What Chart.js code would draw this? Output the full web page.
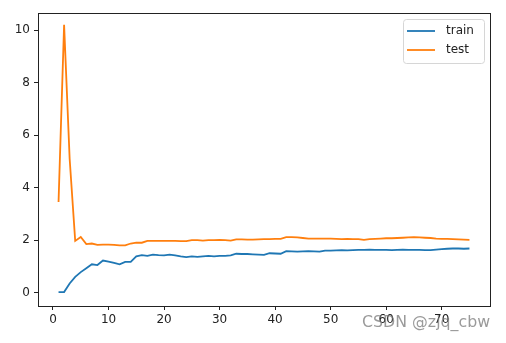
<!DOCTYPE html>
<html>
<head>
<meta charset="utf-8">
<script src="https://cdn.jsdelivr.net/npm/chart.js@4"></script>
<style>
  html, body { margin: 0; padding: 0; background: #fff; }
  #wrap { width: 506px; height: 343px; }
</style>
</head>
<body>
<div id="wrap"><canvas id="graph1" width="506" height="343"></canvas></div>
<script>
// データ (x = 1..75)
const EPOCHS = [];
for (let i = 1; i <= 75; i++) EPOCHS.push(i);

const TRAIN = [
  0.02, 0.02, 0.35, 0.60, 0.78, 0.93, 1.08, 1.05, 1.22, 1.18,
  1.13, 1.08, 1.17, 1.17, 1.38, 1.43, 1.40, 1.45, 1.43, 1.42,
  1.45, 1.42, 1.38, 1.35, 1.38, 1.36, 1.38, 1.40, 1.38, 1.40,
  1.40, 1.42, 1.48, 1.47, 1.47, 1.46, 1.45, 1.44, 1.50, 1.49,
  1.48, 1.58, 1.57, 1.56, 1.57, 1.58, 1.57, 1.56, 1.60, 1.60,
  1.61, 1.62, 1.61, 1.62, 1.63, 1.63, 1.64, 1.63, 1.63, 1.63,
  1.62, 1.63, 1.64, 1.63, 1.63, 1.63, 1.62, 1.62, 1.64, 1.66,
  1.67, 1.68, 1.68, 1.67, 1.68
];

const TEST = [
  3.45, 10.20, 5.10, 1.97, 2.12, 1.85, 1.87, 1.82, 1.83, 1.83,
  1.82, 1.80, 1.80, 1.87, 1.90, 1.90, 1.97, 1.97, 1.97, 1.97,
  1.97, 1.97, 1.96, 1.96, 2.00, 2.00, 1.98, 2.00, 2.00, 2.01,
  2.00, 1.98, 2.03, 2.03, 2.02, 2.02, 2.03, 2.04, 2.04, 2.05,
  2.05, 2.11, 2.11, 2.10, 2.08, 2.06, 2.06, 2.06, 2.06, 2.06,
  2.05, 2.04, 2.05, 2.04, 2.04, 2.01, 2.04, 2.05, 2.06, 2.07,
  2.07, 2.08, 2.09, 2.10, 2.11, 2.10, 2.09, 2.08, 2.06, 2.05,
  2.05, 2.04, 2.03, 2.02, 2.01
];

const X_TICKS = [0, 10, 20, 30, 40, 50, 60, 70];
const Y_TICKS = [0, 2, 4, 6, 8, 10];

const BLUE   = "#1f77b4";
const ORANGE = "#ff7f0e";
const FONT   = "'DejaVu Sans', sans-serif";

// 枠線・凡例・透かし
const framePlugin = {
  id: "frame",
  afterDraw(chart) {
    const { ctx, chartArea: a } = chart;
    ctx.save();
    ctx.strokeStyle = "#222";
    ctx.lineWidth = 1;
    ctx.strokeRect(Math.round(a.left) + 0.5, Math.round(a.top) + 0.5,
                   Math.round(a.right - a.left), Math.round(a.bottom - a.top));

    // 凡例
    const bx = 403, by = 19, bw = 81, bh = 44;
    ctx.fillStyle = "rgba(255,255,255,0.8)";
    ctx.strokeStyle = "#d6d6d6";
    ctx.beginPath();
    ctx.roundRect(bx + 0.5, by + 0.5, bw, bh, 3);
    ctx.fill();
    ctx.stroke();
    ctx.font = "12px " + FONT;
    ctx.textBaseline = "middle";
    chart.data.datasets.forEach((ds, i) => {
      const yy = by + 12 + i * 19;
      ctx.strokeStyle = ds.borderColor;
      ctx.lineWidth = 1.8;
      ctx.beginPath();
      ctx.moveTo(407, yy);
      ctx.lineTo(435, yy);
      ctx.stroke();
      ctx.fillStyle = "#222";
      ctx.fillText(ds.label, 446, yy);
    });

    // 透かし
    const wm = "CSDN @zjq_cbw";
    ctx.font = "16px " + FONT;
    const w = ctx.measureText(wm).width;
    const size = 16 * 128 / w;
    ctx.font = size.toFixed(1) + "px " + FONT;
    ctx.fillStyle = "rgba(120,120,120,0.75)";
    ctx.textBaseline = "alphabetic";
    ctx.fillText(wm, 362, 327);
    ctx.restore();
  }
};

window.addEventListener("load", function () {
  const ctx = document.getElementById("graph1").getContext("2d");
  new Chart(ctx, {
    type: "line",
    data: {
      datasets: [
        { label: "train", data: EPOCHS.map((x, i) => ({ x: x, y: TRAIN[i] })),
          borderColor: BLUE, borderWidth: 1.8, pointRadius: 0, tension: 0 },
        { label: "test",  data: EPOCHS.map((x, i) => ({ x: x, y: TEST[i] })),
          borderColor: ORANGE, borderWidth: 1.8, pointRadius: 0, tension: 0 },
      ]
    },
    options: {
      responsive: false,
      animation: false,
      layout: { padding: { top: 13, right: 16, left: 0, bottom: 0 } },
      plugins: { legend: { display: false }, tooltip: { enabled: false } },
      scales: {
        x: {
          type: "linear",
          min: -2.7, max: 78.7,
          afterFit: s => { s.height = 37; },
          afterBuildTicks: s => { s.ticks = X_TICKS.map(v => ({ value: v })); },
          ticks: { color: "#222", font: { size: 12, family: FONT }, padding: 3, maxRotation: 0 },
          grid: { drawOnChartArea: false, drawTicks: true, tickLength: 4, color: "#222" },
          border: { color: "#222" }
        },
        y: {
          min: -0.51, max: 10.65,
          afterFit: s => { s.width = 38; },
          afterBuildTicks: s => { s.ticks = Y_TICKS.map(v => ({ value: v })); },
          ticks: { color: "#222", font: { size: 12, family: FONT }, padding: 4 },
          grid: { drawOnChartArea: false, drawTicks: true, tickLength: 4, color: "#222" },
          border: { color: "#222" }
        }
      }
    },
    plugins: [framePlugin]
  });
});
</script>
</body>
</html>
